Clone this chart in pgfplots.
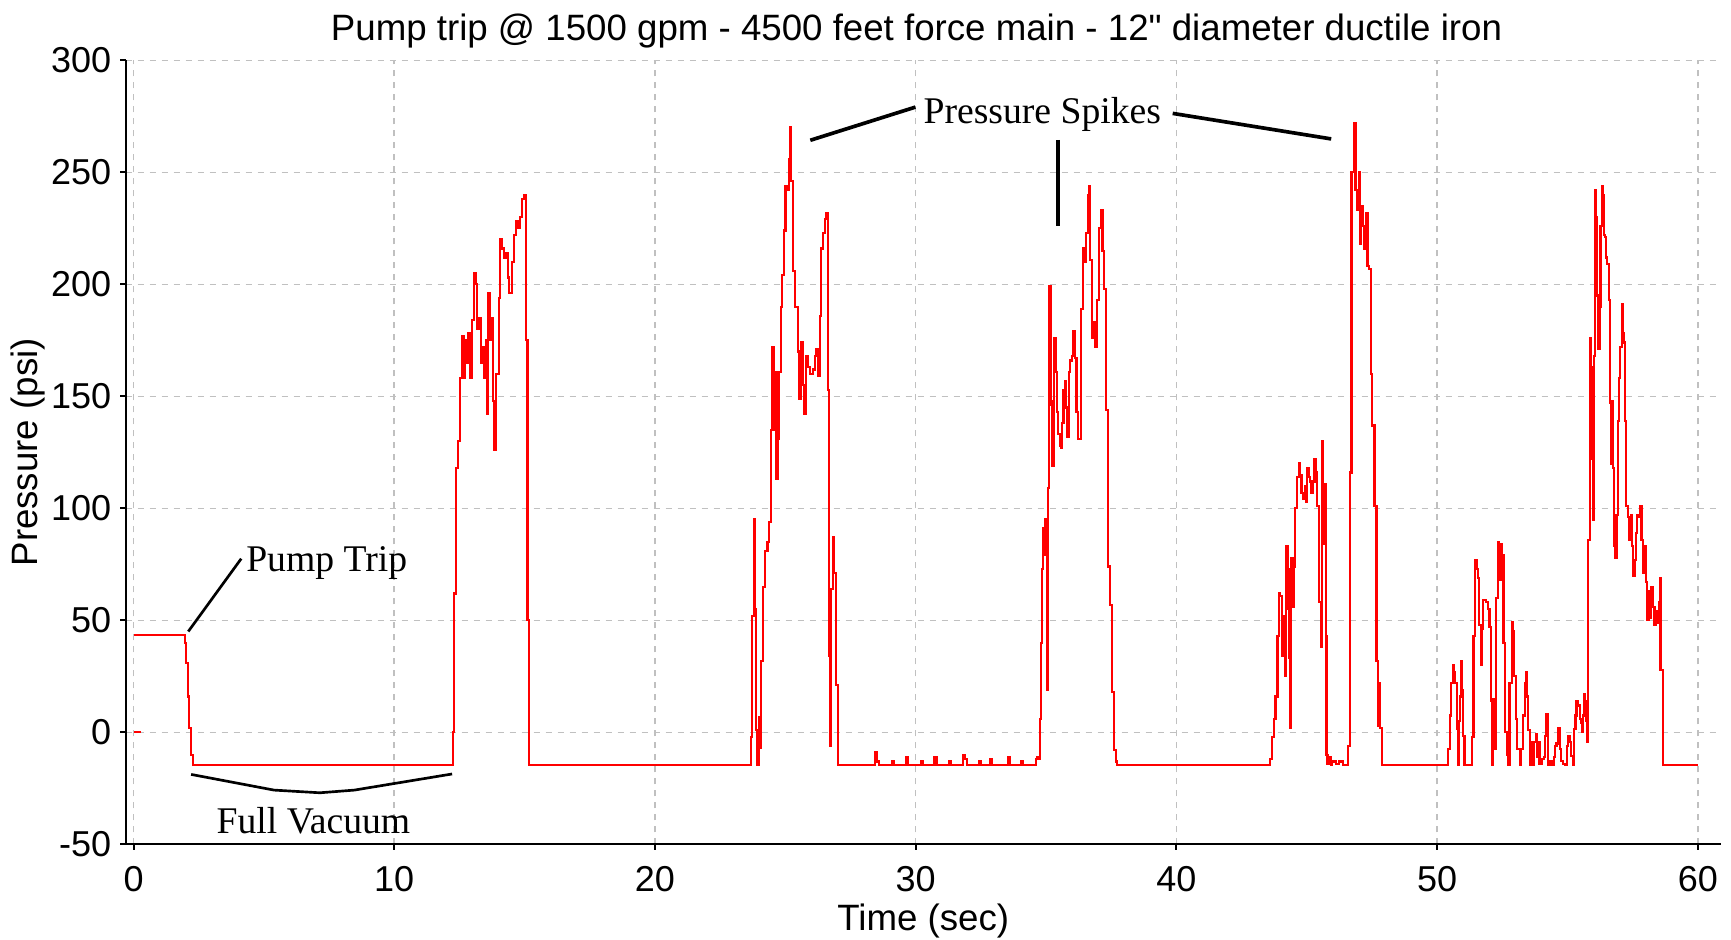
\documentclass[border=0pt]{standalone}
\usepackage{fontspec}
\setmainfont{Liberation Sans}
\newfontfamily\annfont{Liberation Serif}
\usepackage{pgfplots}
\usepackage{pgfplotstable}
\pgfplotsset{compat=1.18}
\usetikzlibrary{calc}
\definecolor{gridgray}{RGB}{192,192,192}

\pgfplotstableread{
t p
0.02 43.5
1.98 40
2.02 31
2.08 16
2.13 2
2.20 -10
2.28 -14.7
12.25 0
12.29 62
12.38 118
12.44 130
12.52 158
12.61 177
12.67 158
12.73 175
12.78 165
12.85 178
12.91 158
12.98 184
13.05 205
13.12 200
13.18 180
13.24 185
13.33 165
13.40 172
13.46 158
13.52 175
13.56 142
13.61 196
13.66 175
13.73 185
13.79 148
13.84 126
13.89 160
14.01 194
14.06 220
14.12 216
14.20 212
14.29 214
14.35 203
14.41 196
14.51 210
14.58 222
14.67 228
14.76 225
14.83 230
14.91 238
14.99 240
15.04 175
15.11 50
15.16 -14.7
23.67 -2
23.72 52
23.80 95
23.83 55
23.88 1
23.93 -14.7
23.98 7
24.03 -7
24.08 32
24.16 65
24.23 81
24.32 85
24.38 94
24.45 135
24.51 172
24.55 135
24.61 161
24.66 113
24.71 131
24.76 161
24.82 190
24.88 204
24.96 224
25.01 244
25.07 242
25.13 256
25.17 270
25.23 246
25.31 206
25.38 190
25.48 170
25.53 149
25.60 174
25.66 155
25.73 142
25.80 168
25.86 163
25.95 160
26.05 162
26.13 168
26.20 171
26.26 159
26.32 186
26.38 216
26.45 223
26.51 229
26.57 232
26.63 153
26.67 34
26.71 -6
26.76 64
26.82 87
26.88 71
26.96 21
27.01 -14.7
28.45 -9
28.52 -13
28.58 -14.7
29.10 -13
29.16 -14.7
29.62 -11
29.70 -14.7
30.20 -13
30.26 -14.7
30.72 -11
30.80 -14.7
31.30 -13
31.36 -14.7
31.82 -10
31.90 -12
31.97 -14.7
32.45 -13
32.51 -14.7
32.85 -12
32.92 -14.7
33.55 -11
33.62 -14.7
34.05 -13
34.11 -14.7
34.62 -12
34.67 -11
34.72 -12
34.76 6
34.80 40
34.85 73
34.89 91
34.93 79
34.97 95
35.01 87
35.04 56
35.06 19
35.08 109
35.12 199
35.17 185
35.20 146
35.24 119
35.29 148
35.32 176
35.37 161
35.42 143
35.47 133
35.53 128
35.57 127
35.62 138
35.67 153
35.72 157
35.77 145
35.82 132
35.87 161
35.93 166
35.99 168
36.05 179
36.11 167
36.17 143
36.22 131
36.35 189
36.42 216
36.48 210
36.54 223
36.60 240
36.65 244
36.70 211
36.75 176
36.82 183
36.89 172
36.96 193
37.03 225
37.10 233
37.17 215
37.24 198
37.29 144
37.37 74
37.46 57
37.54 18
37.62 -8
37.68 -13
37.72 -14.7
43.60 -12
43.66 -2
43.73 6
43.80 16
43.88 43
43.93 62
43.99 61
44.04 34
44.11 52
44.16 25
44.21 83
44.26 55
44.30 73
44.33 33
44.37 2
44.41 78
44.46 56
44.51 74
44.56 100
44.63 114
44.69 120
44.74 115
44.80 107
44.85 104
44.92 110
44.97 103
45.02 118
45.07 114
45.12 112
45.17 107
45.22 112
45.30 122
45.35 116
45.41 101
45.47 58
45.54 38
45.59 130
45.64 84
45.68 111
45.73 43
45.76 -10
45.80 -14
45.85 -11
45.92 -14.7
45.98 -13
46.11 -14
46.23 -13
46.40 -14.7
46.59 -6
46.65 116
46.72 250
46.80 272
46.87 242
46.93 233
46.99 250
47.04 218
47.09 235
47.14 226
47.21 216
47.27 232
47.33 208
47.40 207
47.45 160
47.52 137
47.60 101
47.68 32
47.73 3
47.76 22
47.82 2
47.88 -14.7
50.42 -7.5
50.49 7.5
50.55 22
50.61 30
50.66 27
50.70 22
50.75 1.5
50.79 -14.7
50.83 5
50.87 16
50.91 32
50.96 19
51.00 -1.5
51.05 -14.7
51.34 -2
51.40 43
51.47 77
51.52 73
51.57 69
51.62 48
51.69 30
51.71 46
51.76 59
51.89 58
51.94 55
52.01 47
52.06 14
52.11 -14.7
52.16 15
52.21 -7.5
52.27 60
52.34 85
52.38 68
52.43 84
52.49 79
52.55 40
52.62 0
52.67 -10
52.73 -14.7
52.78 22
52.86 49
52.91 45
52.96 25
53.03 6
53.08 -7.5
53.17 -14.7
53.23 -7.5
53.30 7.5
53.36 22
53.40 27
53.44 16
53.49 1
53.55 -14.7
53.60 -4.5
53.65 -14.7
53.72 -4.5
53.78 -1
53.83 -11
53.88 -4.5
53.93 -14
54.01 -12
54.09 -11
54.14 -1.5
54.20 8
54.25 -14.7
54.33 -13
54.39 -14.7
54.47 -11
54.53 -6
54.58 -5
54.65 2
54.70 -7.5
54.76 -12.7
54.83 -14
54.92 -14.7
54.97 -6
55.03 -1.5
55.08 -4.5
55.15 -10.5
55.20 -14.7
55.25 1.5
55.31 7.5
55.35 14
55.42 12
55.47 6
55.52 4
55.56 0
55.59 7.5
55.63 17
55.68 14
55.73 5
55.76 -4.5
55.80 86
55.86 176
55.91 122
55.95 163
55.99 95
56.03 168
56.07 242
56.11 230
56.14 195
56.19 171
56.23 190
56.27 226
56.32 244
56.36 240
56.40 222
56.45 221
56.49 212
56.53 209
56.58 193
56.63 147
56.68 120
56.72 148
56.75 118
56.79 83
56.84 78
56.88 97
56.93 139
56.98 158
57.03 172
57.08 191
57.14 178
57.17 174
57.21 139
57.26 101
57.33 96
57.38 86
57.43 97
57.48 83
57.53 70
57.58 77
57.63 89
57.68 97
57.73 96
57.78 101
57.84 86
57.89 71
57.94 83
58.00 67
58.06 50
58.12 63
58.17 51
58.22 65
58.28 56
58.34 48
58.40 54
58.45 49
58.50 58
58.54 69
58.57 28
58.66 -14.7
60.00 -14.7
}\trace

\pgfplotstableread{
t p
0.02 0
0.27 0
}\dash

\begin{document}
\begin{tikzpicture}
\begin{axis}[
  name=ax,
  at={(0,0)}, anchor=south west,
  scale only axis,
  width=478.5pt, height=235.2pt,
  xmin=-0.3, xmax=60.88, ymin=-50, ymax=300,
  axis x line*=bottom, axis y line*=left,
  axis line style={black, line width=0.6pt},
  xtick={0,10,20,30,40,50,60},
  ytick={-50,0,50,100,150,200,250,300},
  xticklabels={0,10,20,30,40,50,60},
  yticklabels={-50,0,50,100,150,200,250,300},
  tick align=outside,
  major tick length=1.6pt,
  tick style={black, line width=0.6pt},
  grid=major,
  grid style={gridgray, dash pattern=on 1.8pt off 1.8pt, line width=0.45pt},
  ticklabel style={font=\fontsize{10.8}{13}\selectfont},
  xticklabel style={anchor=base, yshift=-12.7pt},
  yticklabel style={anchor=east, xshift=0.8pt},
  title={Pump trip @ 1500 gpm - 4500 feet force main - 12\textquotedbl{} diameter ductile iron},
  title style={font=\fontsize{11}{13}\selectfont, at={(0.5,1)}, anchor=base, xshift=-2pt},
  xlabel={Time (sec)},
  ylabel={Pressure (psi)},
  xlabel style={font=\fontsize{11}{13}\selectfont, at={(0.5,0)}, anchor=base, yshift=-25.9pt},
  ylabel style={font=\fontsize{11}{13}\selectfont, at={(0,0.5)}, anchor=center, yshift=29.4pt},
  clip=false,
]
\addplot[const plot, red, line width=0.65pt] table[x=t, y=p] {\trace};
\addplot[red, line width=0.65pt] table[x=t, y=p] {\dash};

\draw[black, line width=0.8pt] (axis cs:2.1,45) -- (axis cs:4.13,77.5);
\node[anchor=base west, inner sep=0pt, font=\annfont\fontsize{11.3}{13}\selectfont] at (axis cs:4.3,72) {Pump Trip};

\draw[black, line width=0.8pt] (axis cs:2.21,-18.8) -- (axis cs:5.39,-25.8) -- (axis cs:7.15,-27) -- (axis cs:8.47,-25.8) -- (axis cs:12.22,-18.6);
\node[anchor=base, inner sep=0pt, font=\annfont\fontsize{11.3}{13}\selectfont] at (axis cs:6.9,-45.3) {Full Vacuum};

\node[anchor=base east, inner sep=0pt, font=\annfont\fontsize{11.3}{13}\selectfont] at (axis cs:39.44,272) {Pressure Spikes};
\draw[black, line width=1.1pt] (axis cs:25.96,264.3) -- (axis cs:29.99,279.1);
\draw[black, line width=1.1pt] (axis cs:39.86,276.3) -- (axis cs:45.94,264.9);
\draw[black, line width=1.2pt] (axis cs:35.45,264.5) -- (axis cs:35.45,226.2);
\end{axis}
\pgfresetboundingbox
\path ($(ax.south west)+(-37.71pt,-28.41pt)$) rectangle ($(ax.north east)+(3.09pt,18.09pt)$);
\end{tikzpicture}
\end{document}
